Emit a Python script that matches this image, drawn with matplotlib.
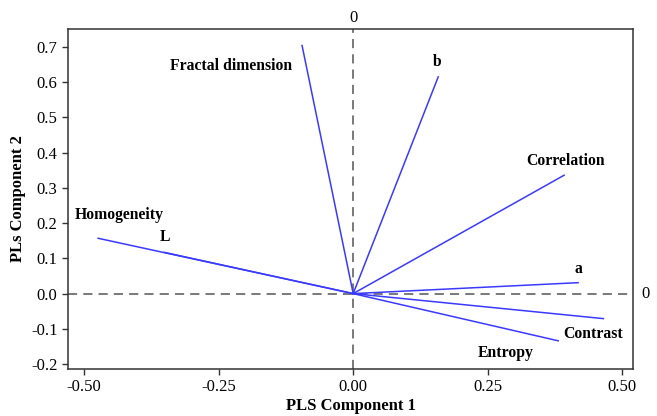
import matplotlib
matplotlib.use("Agg")
import matplotlib.pyplot as plt

plt.rcParams['font.family'] = ['Liberation Serif', 'DejaVu Serif']

variables = ['Fractal dimension', 'b', 'Correlation', 'Homogeneity', 'L', 'a', 'Contrast', 'Entropy']
comp1 = [-0.095, 0.158, 0.392, -0.474, -0.351, 0.418, 0.465, 0.381]
comp2 = [0.704, 0.615, 0.336, 0.157, 0.117, 0.031, -0.071, -0.134]
# label anchor points (data coords)
label_x = [-0.227, 0.156, 0.394, -0.435, -0.349, 0.418, 0.446, 0.284]
label_y = [0.647, 0.658, 0.376, 0.222, 0.160, 0.071, -0.114, -0.168]

xticks = [-0.50, -0.25, 0.00, 0.25, 0.50]
yticks = [-0.2, -0.1, 0.0, 0.1, 0.2, 0.3, 0.4, 0.5, 0.6, 0.7]

fig = plt.figure(figsize=(6.57, 4.16), dpi=100)
ax = fig.add_axes([68/657, 1-369/416, (633-68)/657, (369-29)/416])

ax.axhline(0, color='#555555', ls=(0, (6, 4)), lw=1.1, zorder=1)
ax.axvline(0, color='#555555', ls=(0, (6, 4)), lw=1.1, zorder=1)

for x, y in zip(comp1, comp2):
    ax.plot([0, x], [0, y], color='#3a3aff', lw=1.1, zorder=2)

for name, lx, ly in zip(variables, label_x, label_y):
    ax.text(lx, ly, name, ha='center', va='center', fontsize=11.3, fontweight='bold')

ax.set_xlim(-0.530, 0.520)
ax.set_ylim(-0.214, 0.751)
ax.set_xticks(xticks)
ax.set_xticklabels([f'{t:.2f}' for t in xticks])
ax.set_yticks(yticks)
ax.set_yticklabels([f'{t:.1f}' for t in yticks])
ax.tick_params(direction='out', length=4, width=1, color='#333333', labelsize=12)
for s in ax.spines.values():
    s.set_color('#333333')
    s.set_linewidth(1.1)

ax.text(0, 1.01, '0', transform=ax.get_xaxis_transform(), ha='center', va='bottom', fontsize=12)
ax.text(1.015, 0, '0', transform=ax.get_yaxis_transform(), ha='left', va='center', fontsize=12)

ax.set_xlabel('PLS Component 1', fontsize=12, fontweight='bold', labelpad=2)
ax.set_ylabel('PLs Component 2', fontsize=12, fontweight='bold', labelpad=4)

fig.savefig('out.png', dpi=100)
